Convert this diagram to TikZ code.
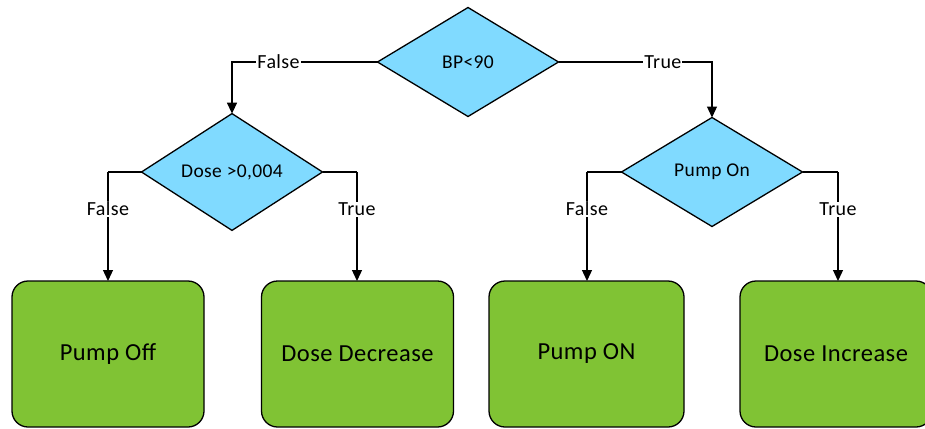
\documentclass[tikz,border=0pt]{standalone}
\usepackage{fontspec}
\setmainfont{Carlito}[LetterSpace=2]
\usetikzlibrary{shapes.geometric,arrows.meta}
\definecolor{dblue}{RGB}{128,218,255}
\definecolor{bgreen}{RGB}{128,195,52}
\tikzset{
  dec/.style={diamond,draw=black,fill=dblue,line width=1.3pt,inner sep=0pt,outer sep=0pt,
    minimum width=181pt,minimum height=109pt,font=\fontsize{19.5}{22}\selectfont},
  act/.style={rectangle,rounded corners=16pt,draw=black,fill=bgreen,line width=1.3pt,
    outer sep=0pt,minimum height=146pt,font=\fontsize{24.5}{28}\selectfont},
  conn/.style={line width=1.3pt,-{Triangle[length=11pt,width=10pt]}},
  lab/.style={fill=white,inner sep=1pt,font=\fontsize{20}{22}\selectfont}
}
\begin{document}
\begin{tikzpicture}[x=1pt,y=-1pt]
\useasboundingbox (0,0) rectangle (925,428);
\clip (0,0) rectangle (925,428);
\node[dec] (bp) at (468,62) {BP<90};
\node[dec] (dose) at (232,172) {Dose >0,004};
\node[dec] (pump) at (712,172) {Pump On};
\node[act,minimum width=192pt] (off) at (108,354) {Pump Off};
\node[act,minimum width=192pt] (dec) at (357.5,354) {Dose Decrease};
\node[act,minimum width=195pt] (on) at (586.5,354) {Pump ON};
\node[act,minimum width=192pt] (inc) at (836,354) {Dose Increase};

\draw[conn] (bp.west) -- node[lab,pos=0.68]{False} (bp.west -| dose.north) -- (dose.north);
\draw[conn] (bp.east) -- node[lab,pos=0.68]{True} (bp.east -| pump.north) -- (pump.north);

\coordinate (c1) at (108,172);
\coordinate (c2) at (357,172);
\coordinate (c3) at (587,172);
\coordinate (c4) at (838,172);
\draw[line width=1.3pt] (dose.west) -- (c1);
\draw[conn] (c1) -- node[lab,pos=0.34]{False} (c1 |- off.north);
\draw[line width=1.3pt] (dose.east) -- (c2);
\draw[conn] (c2) -- node[lab,pos=0.34]{True} (c2 |- dec.north);
\draw[line width=1.3pt] (pump.west) -- (c3);
\draw[conn] (c3) -- node[lab,pos=0.34]{False} (c3 |- on.north);
\draw[line width=1.3pt] (pump.east) -- (c4);
\draw[conn] (c4) -- node[lab,pos=0.34]{True} (c4 |- inc.north);
\end{tikzpicture}
\end{document}
